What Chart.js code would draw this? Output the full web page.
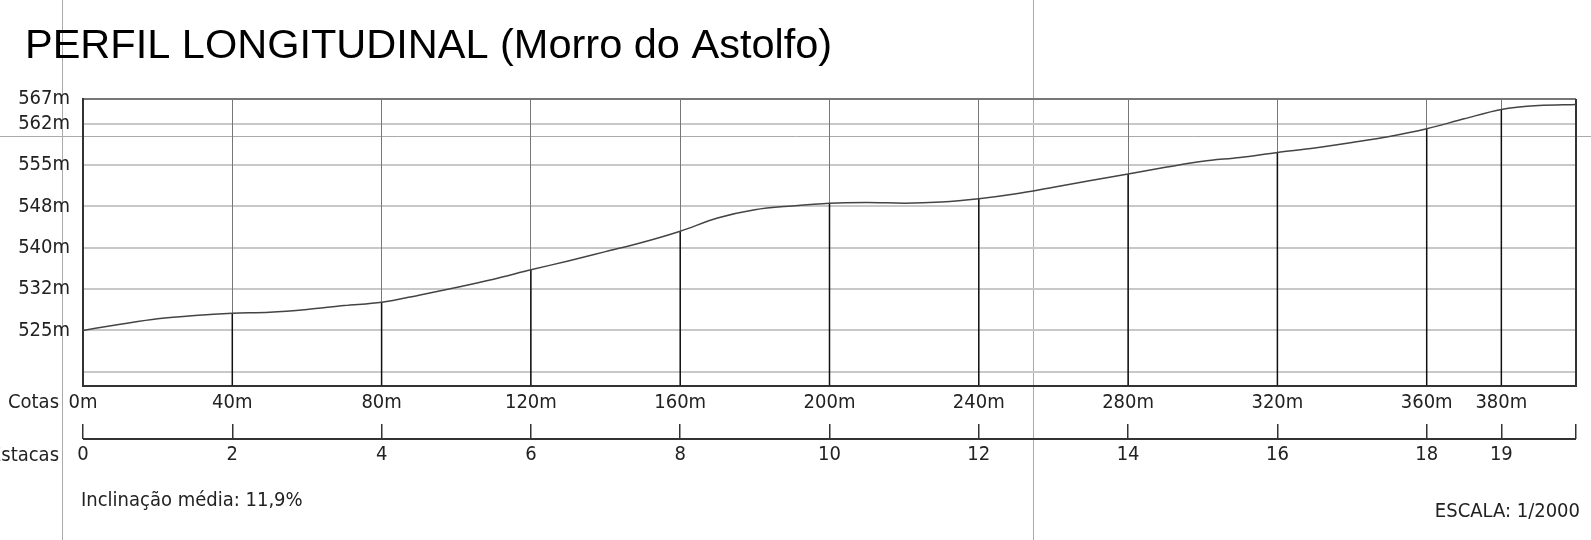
<!DOCTYPE html>
<html>
<head>
<meta charset="utf-8">
<script src="https://cdn.jsdelivr.net/npm/chart.js@4"></script>
<style>
  body { margin: 0; background: #fff; }
  canvas { display: block; }
</style>
</head>
<body>
<canvas id="perfil" width="1591" height="540"></canvas>
<script>
// distancia (m) e cota (m) do perfil, lidas a cada 10 m
const distances = [0, 10, 20, 30, 40, 50, 60, 70, 80, 90, 100, 110, 120, 130, 140, 150, 160, 170, 180, 190, 200,
  210, 220, 230, 240, 250, 260, 270, 280, 290, 300, 310, 320, 330, 340, 350, 360, 370, 380, 390, 400];
const elevations = [525.0, 526.1, 527.1, 527.7, 528.1, 528.3, 528.8, 529.5, 530.1, 531.4, 532.8, 534.3, 536.0, 537.6, 539.3, 541.0, 543.0, 545.4, 546.9, 547.6, 548.1,
  548.2, 548.1, 548.3, 548.9, 549.8, 551.0, 552.2, 553.4, 554.6, 555.7, 556.4, 557.3, 558.1, 559.1, 560.2, 561.6, 563.4, 565.1, 565.8, 566.0];

// grade vertical (cotas) e rotulos
const cotaTicks = [517.5, 525, 532.5, 540, 547.5, 555, 562.5, 567];
const cotaLabels = ["", "525m", "532m", "540m", "548m", "555m", "562m", "567m"];

// estacas a cada 20 m
const distTicks = [0, 40, 80, 120, 160, 200, 240, 280, 320, 360, 380, 400];
const estacaTicks = [0, 2, 4, 6, 8, 10, 12, 14, 16, 18, 19, 20];
const dropStations = [40, 80, 120, 160, 200, 240, 280, 320, 360, 380];

const yMin = 515, yMax = 567;
const font = "'DejaVu Sans Condensed', 'Liberation Sans Narrow', 'Liberation Sans', sans-serif";

const profile = distances.map((d, i) => ({ x: d, y: elevations[i] }));
const drops = dropStations.flatMap(d => {
  const e = elevations[distances.indexOf(d)];
  return [{ x: d, y: yMin }, { x: d, y: e }, { x: d, y: null }];
});

const cadPlugin = {
  id: "cad",
  beforeDraw(chart) {
    const ctx = chart.ctx;
    ctx.save();
    ctx.strokeStyle = "#aaa";
    ctx.lineWidth = 1;
    ctx.beginPath();
    ctx.moveTo(0, 136.5); ctx.lineTo(chart.width, 136.5);
    ctx.moveTo(62.5, 0); ctx.lineTo(62.5, chart.height);
    ctx.moveTo(1033.5, 0); ctx.lineTo(1033.5, chart.height);
    ctx.stroke();
    ctx.restore();
  },
  afterDraw(chart) {
    const ctx = chart.ctx;
    const a = chart.chartArea;
    const x2 = chart.scales.x2;
    ctx.save();
    // linha das estacas
    ctx.strokeStyle = "#333";
    ctx.lineWidth = 2;
    ctx.beginPath();
    ctx.moveTo(a.left, x2.top + 15);
    ctx.lineTo(a.right, x2.top + 15);
    ctx.stroke();

    ctx.fillStyle = "#000";
    ctx.textBaseline = "alphabetic";
    ctx.textAlign = "left";
    ctx.font = "41.5px 'Liberation Sans'";
    ctx.fillText("PERFIL LONGITUDINAL (Morro do Astolfo)", 25, 58);

    ctx.fillStyle = "#222";
    ctx.font = "20px " + font;
    ctx.textBaseline = "middle";
    ctx.textAlign = "right";
    ctx.fillText("Cotas", 59, 403);
    ctx.fillText("Estacas", 59, 456);
    ctx.fillText("ESCALA: 1/2000", 1580, 512);
    ctx.textAlign = "left";
    ctx.fillText("Inclinação média: 11,9%", 81, 501);
    ctx.restore();
  }
};

new Chart(document.getElementById("perfil"), {
  type: "line",
  data: {
    datasets: [
      {
        label: "Perfil",
        data: profile,
        borderColor: "#444",
        borderWidth: 1.5,
        pointRadius: 0,
        cubicInterpolationMode: "monotone",
        order: 1
      },
      {
        label: "Estacas",
        data: drops,
        borderColor: "#111",
        borderWidth: 1.5,
        pointRadius: 0,
        spanGaps: false,
        order: 2
      }
    ]
  },
  options: {
    responsive: false,
    animation: false,
    layout: { padding: { left: 0, top: 99, right: 15, bottom: 0 } },
    plugins: { legend: { display: false }, tooltip: { enabled: false }, title: { display: false } },
    scales: {
      y: {
        type: "linear",
        min: yMin,
        max: yMax,
        afterFit: s => { s.width = 83; },
        afterBuildTicks: s => { s.ticks = cotaTicks.map(v => ({ value: v })); },
        ticks: {
          padding: 13,
          color: "#222",
          font: { family: font, size: 20 },
          callback: v => cotaLabels[cotaTicks.indexOf(v)]
        },
        grid: {
          drawTicks: false,
          color: c => c.tick && c.tick.value === yMax ? "#777" : "#c8c8c8",
          lineWidth: c => 2
        },
        border: { color: "#333", width: 2 }
      },
      x: {
        type: "linear",
        position: "bottom",
        weight: 0,
        min: 0,
        max: 400,
        afterFit: s => { s.height = 38.5; },
        afterBuildTicks: s => { s.ticks = distTicks.map(v => ({ value: v })); },
        ticks: {
          padding: 5,
          autoSkip: false,
          maxRotation: 0,
          color: "#222",
          font: { family: font, size: 20 },
          callback: v => v === 400 ? "" : v + "m"
        },
        grid: {
          drawTicks: false,
          color: c => (c.tick && (c.tick.value === 0 || c.tick.value === 400)) ? "#333" : "#777",
          lineWidth: c => (c.tick && (c.tick.value === 0 || c.tick.value === 400)) ? 2 : 1
        },
        border: { color: "#333", width: 2 }
      },
      x2: {
        type: "linear",
        position: "bottom",
        weight: 1,
        min: 0,
        max: 20,
        afterFit: s => { s.height = 116; },
        afterBuildTicks: s => { s.ticks = estacaTicks.map(v => ({ value: v })); },
        ticks: {
          padding: 4,
          autoSkip: false,
          maxRotation: 0,
          color: "#222",
          font: { family: font, size: 20 },
          callback: v => v === 20 ? "" : String(v)
        },
        grid: {
          drawOnChartArea: false,
          drawTicks: true,
          tickLength: 15,
          color: "#333",
          lineWidth: 1.5
        },
        border: { display: false }
      }
    }
  },
  plugins: [cadPlugin]
});
</script>
</body>
</html>
